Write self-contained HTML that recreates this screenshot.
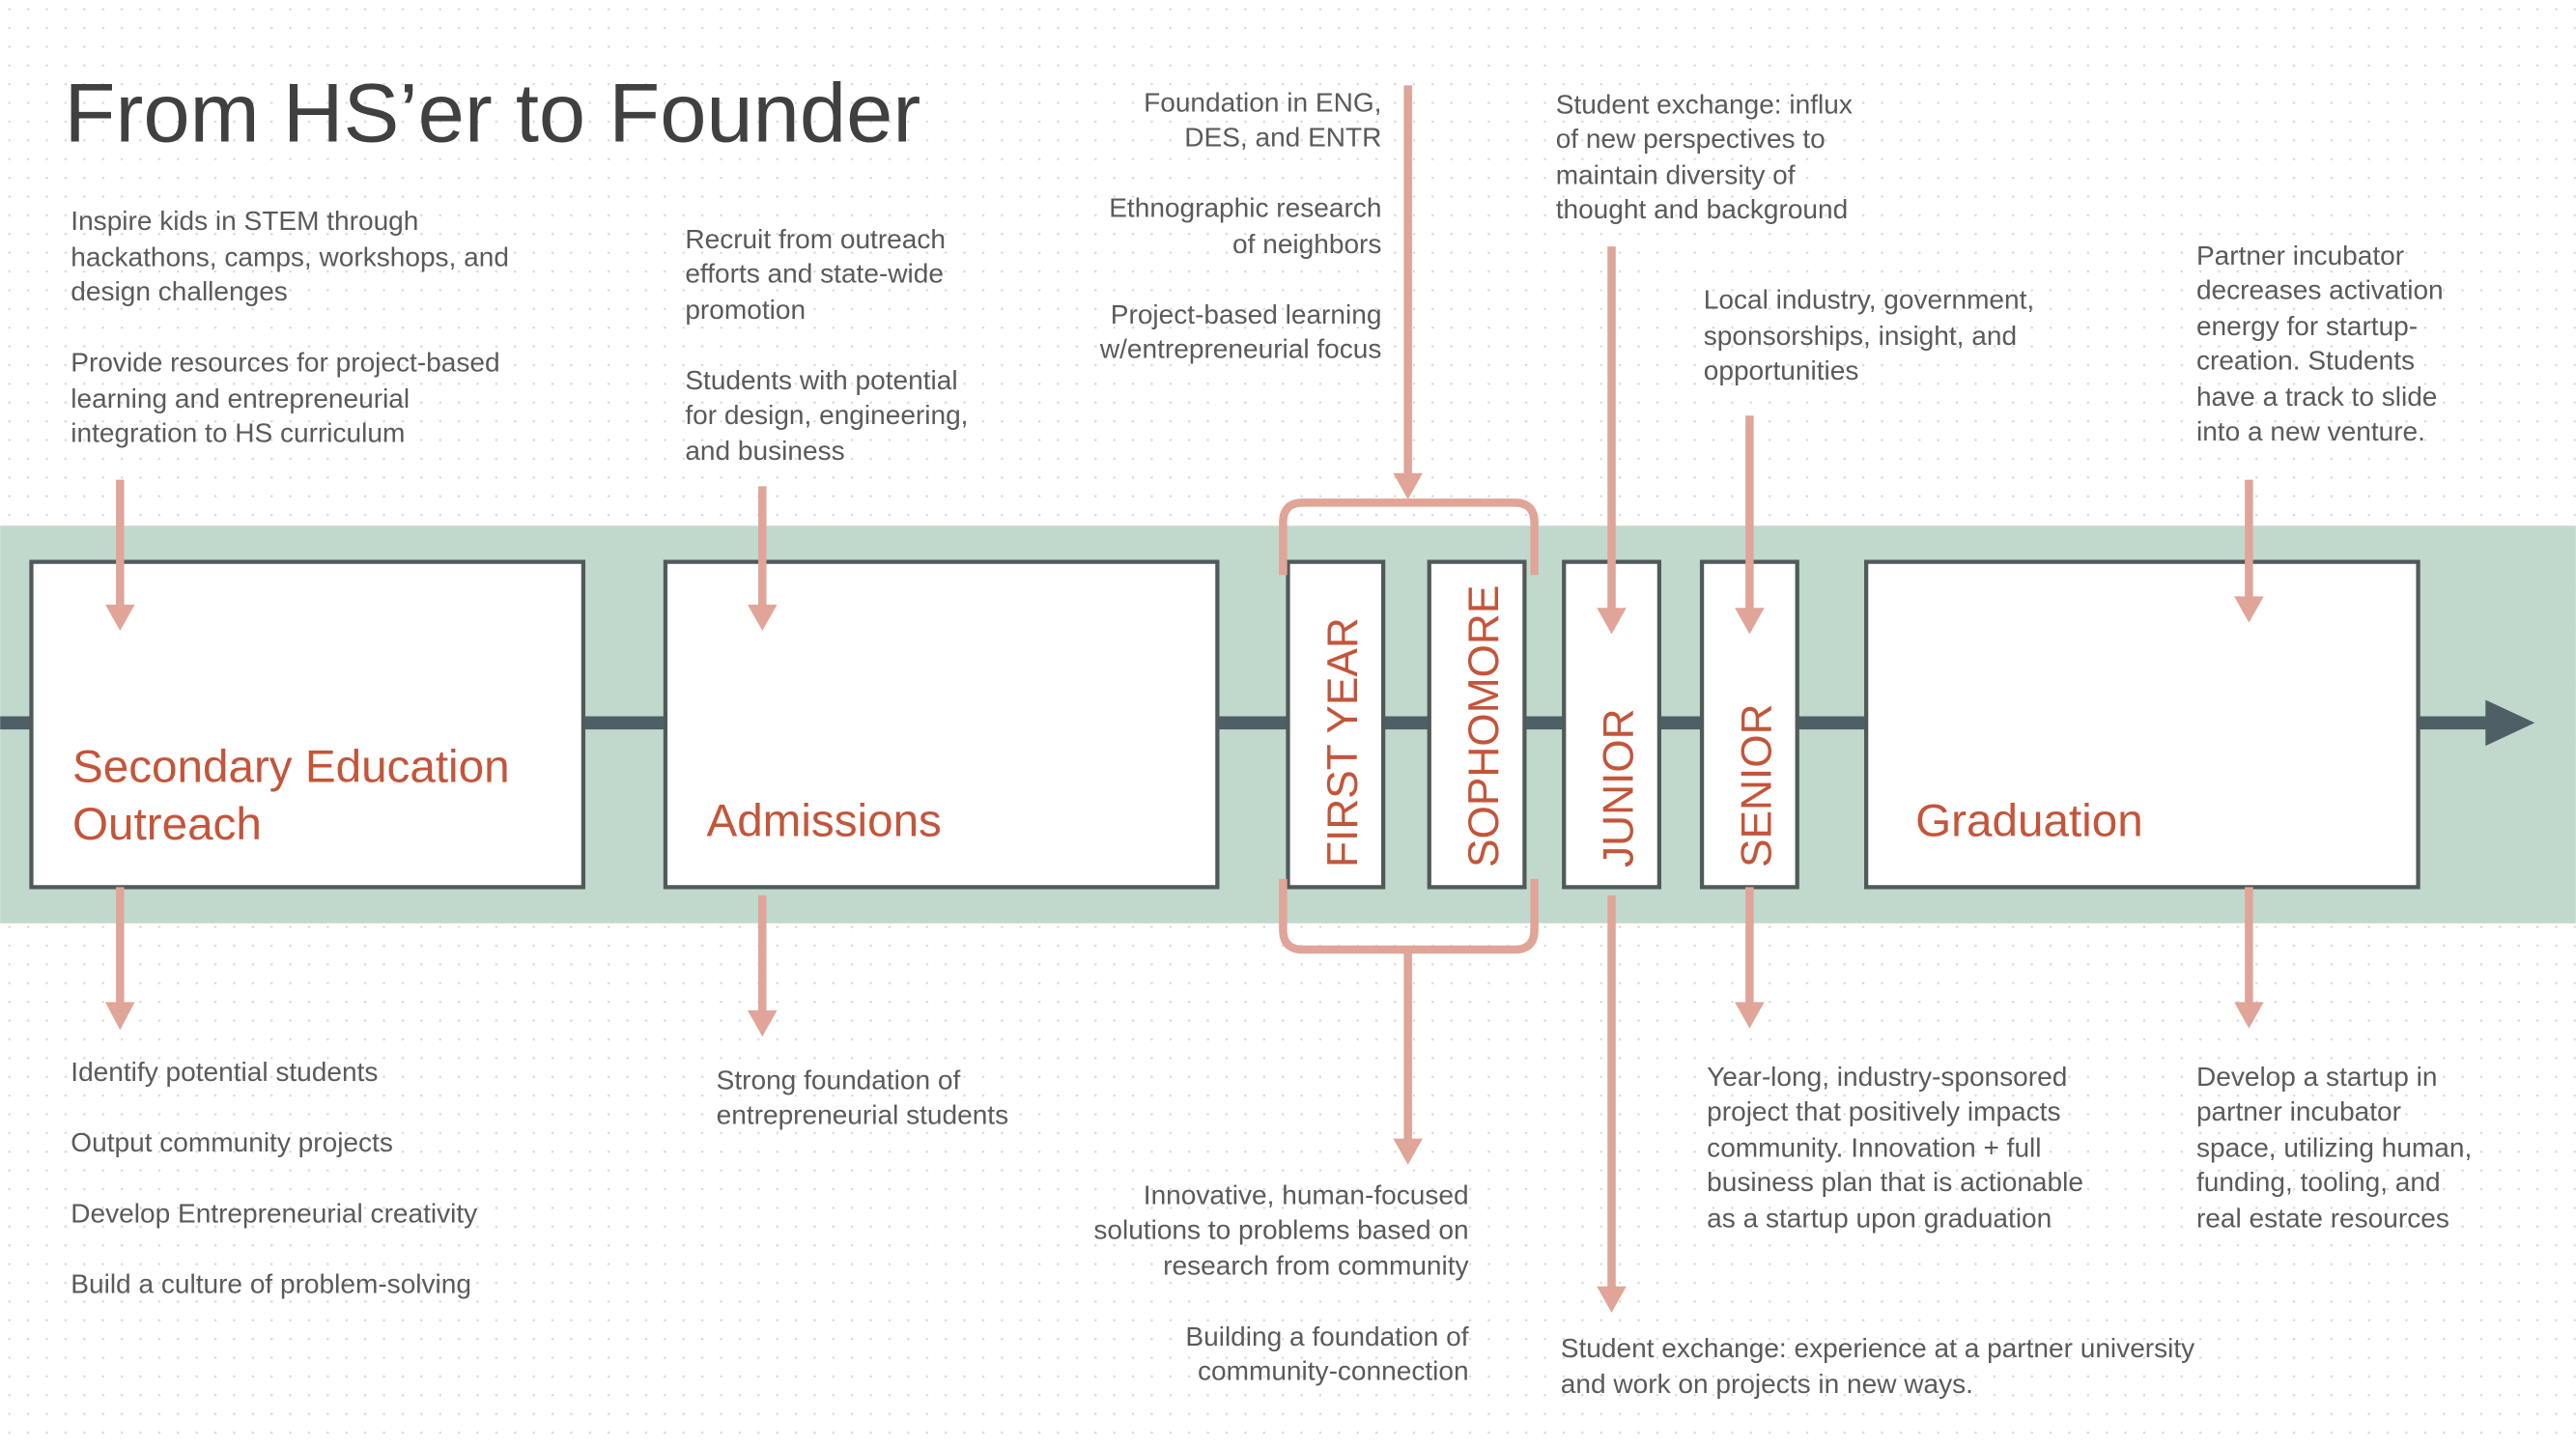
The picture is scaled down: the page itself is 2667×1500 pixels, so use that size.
<!DOCTYPE html>
<html><head><meta charset="utf-8"><style>
html,body{margin:0;padding:0;background:#fff;}
svg{display:block;}
text{font-family:"Liberation Sans",sans-serif;}
.t{font-size:16.5px;fill:#5a5a5a;}
.o{fill:#c4553a;}
</style></head><body>
<svg width="2667" height="1500" viewBox="0 0 1568 882" xmlns="http://www.w3.org/2000/svg">
<defs>
<pattern id="d" width="11.4" height="11.4" patternUnits="userSpaceOnUse"><rect x="5" y="5" width="1.3" height="1.3" fill="#d8d8d8"/></pattern>
</defs>
<rect width="1568" height="882" fill="#fff"/>
<rect width="1568" height="882" fill="url(#d)"/>
<rect x="0" y="320" width="1568" height="242" fill="#c0d9cc"/>
<rect x="0" y="436" width="1520" height="8" fill="#4f5f66"/>
<polygon points="1513,426 1543,440 1513,454" fill="#4f5f66"/>
<g fill="#fff" stroke="#505a5a" stroke-width="2.5">
<rect x="19" y="342" width="336" height="198"/>
<rect x="405" y="342" width="336" height="198"/>
<rect x="784" y="342" width="58" height="198"/>
<rect x="870" y="342" width="58" height="198"/>
<rect x="952" y="342" width="58" height="198"/>
<rect x="1036" y="342" width="58" height="198"/>
<rect x="1136" y="342" width="336" height="198"/>
</g>
<g class="o" font-size="28">
<text x="44" y="476">Secondary Education</text>
<text x="44" y="511">Outreach</text>
<text x="430" y="509">Admissions</text>
<text x="1166" y="509">Graduation</text>
</g>
<g class="o" font-size="26">
<text transform="translate(826,528) rotate(-90)">FIRST YEAR</text>
<text transform="translate(912,528) rotate(-90)">SOPHOMORE</text>
<text transform="translate(994,528) rotate(-90)">JUNIOR</text>
<text transform="translate(1078,528) rotate(-90)">SENIOR</text>
</g>
<g stroke="#e0a598" stroke-width="5" fill="none">
<line x1="73" y1="292" x2="73" y2="370"/>
<line x1="73" y1="540" x2="73" y2="612"/>
<line x1="464" y1="296" x2="464" y2="370"/>
<line x1="464" y1="545" x2="464" y2="617"/>
<line x1="857" y1="52" x2="857" y2="290"/>
<path d="M781,350 V318 Q781,306 793,306 H922 Q934,306 934,318 V350"/>
<path d="M781,535 V566 Q781,578 793,578 H922 Q934,578 934,566 V535"/>
<line x1="857" y1="578" x2="857" y2="695"/>
<line x1="981" y1="150" x2="981" y2="372"/>
<line x1="981" y1="545" x2="981" y2="785"/>
<line x1="1065" y1="253" x2="1065" y2="372"/>
<line x1="1065" y1="540" x2="1065" y2="612"/>
<line x1="1369" y1="292" x2="1369" y2="365"/>
<line x1="1369" y1="540" x2="1369" y2="612"/>
</g>
<g fill="#e0a598">
<polygon points="64,368 82,368 73,384"/>
<polygon points="64,610 82,610 73,627"/>
<polygon points="455,368 473,368 464,384"/>
<polygon points="455,615 473,615 464,631"/>
<polygon points="848,288 866,288 857,304"/>
<polygon points="848,693 866,693 857,709"/>
<polygon points="972,370 990,370 981,386"/>
<polygon points="972,783 990,783 981,799"/>
<polygon points="1056,370 1074,370 1065,386"/>
<polygon points="1056,610 1074,610 1065,626"/>
<polygon points="1360,363 1378,363 1369,379"/>
<polygon points="1360,610 1378,610 1369,626"/>
</g>
<text x="39" y="86" font-size="51" fill="#404040">From HS’er to Founder</text>
<g class="t">
<text x="43" y="140">Inspire kids in STEM through</text>
<text x="43" y="162">hackathons, camps, workshops, and</text>
<text x="43" y="183">design challenges</text>
<text x="43" y="226">Provide resources for project-based</text>
<text x="43" y="248">learning and entrepreneurial</text>
<text x="43" y="269">integration to HS curriculum</text>
<text x="417" y="151">Recruit from outreach</text>
<text x="417" y="172">efforts and state-wide</text>
<text x="417" y="194">promotion</text>
<text x="417" y="237">Students with potential</text>
<text x="417" y="258">for design, engineering,</text>
<text x="417" y="280">and business</text>
<g text-anchor="end">
<text x="841" y="68">Foundation in ENG,</text>
<text x="841" y="89">DES, and ENTR</text>
<text x="841" y="132">Ethnographic research</text>
<text x="841" y="154">of neighbors</text>
<text x="841" y="197">Project-based learning</text>
<text x="841" y="218">w/entrepreneurial focus</text>
<text x="894" y="733">Innovative, human-focused</text>
<text x="894" y="754">solutions to problems based on</text>
<text x="894" y="776">research from community</text>
<text x="894" y="819">Building a foundation of</text>
<text x="894" y="840">community-connection</text>
</g>
<text x="947" y="69">Student exchange: influx</text>
<text x="947" y="90">of new perspectives to</text>
<text x="947" y="112">maintain diversity of</text>
<text x="947" y="133">thought and background</text>
<text x="1037" y="188">Local industry, government,</text>
<text x="1037" y="210">sponsorships, insight, and</text>
<text x="1037" y="231">opportunities</text>
<text x="1337" y="161">Partner incubator</text>
<text x="1337" y="182">decreases activation</text>
<text x="1337" y="204">energy for startup-</text>
<text x="1337" y="225">creation.  Students</text>
<text x="1337" y="247">have a track to slide</text>
<text x="1337" y="268">into a new venture.</text>
<text x="43" y="658">Identify potential students</text>
<text x="43" y="701">Output community projects</text>
<text x="43" y="744">Develop Entrepreneurial creativity</text>
<text x="43" y="787">Build a culture of problem-solving</text>
<text x="436" y="663">Strong foundation of</text>
<text x="436" y="684">entrepreneurial students</text>
<text x="1039" y="661">Year-long, industry-sponsored</text>
<text x="1039" y="682">project that positively impacts</text>
<text x="1039" y="704">community.  Innovation + full</text>
<text x="1039" y="725">business plan that is actionable</text>
<text x="1039" y="747">as a startup upon graduation</text>
<text x="1337" y="661">Develop a startup in</text>
<text x="1337" y="682">partner incubator</text>
<text x="1337" y="704">space, utilizing human,</text>
<text x="1337" y="725">funding, tooling, and</text>
<text x="1337" y="747">real estate resources</text>
<text x="950" y="826">Student exchange: experience at a partner university</text>
<text x="950" y="848">and work on projects in new ways.</text>
</g>
</svg>
</body></html>
